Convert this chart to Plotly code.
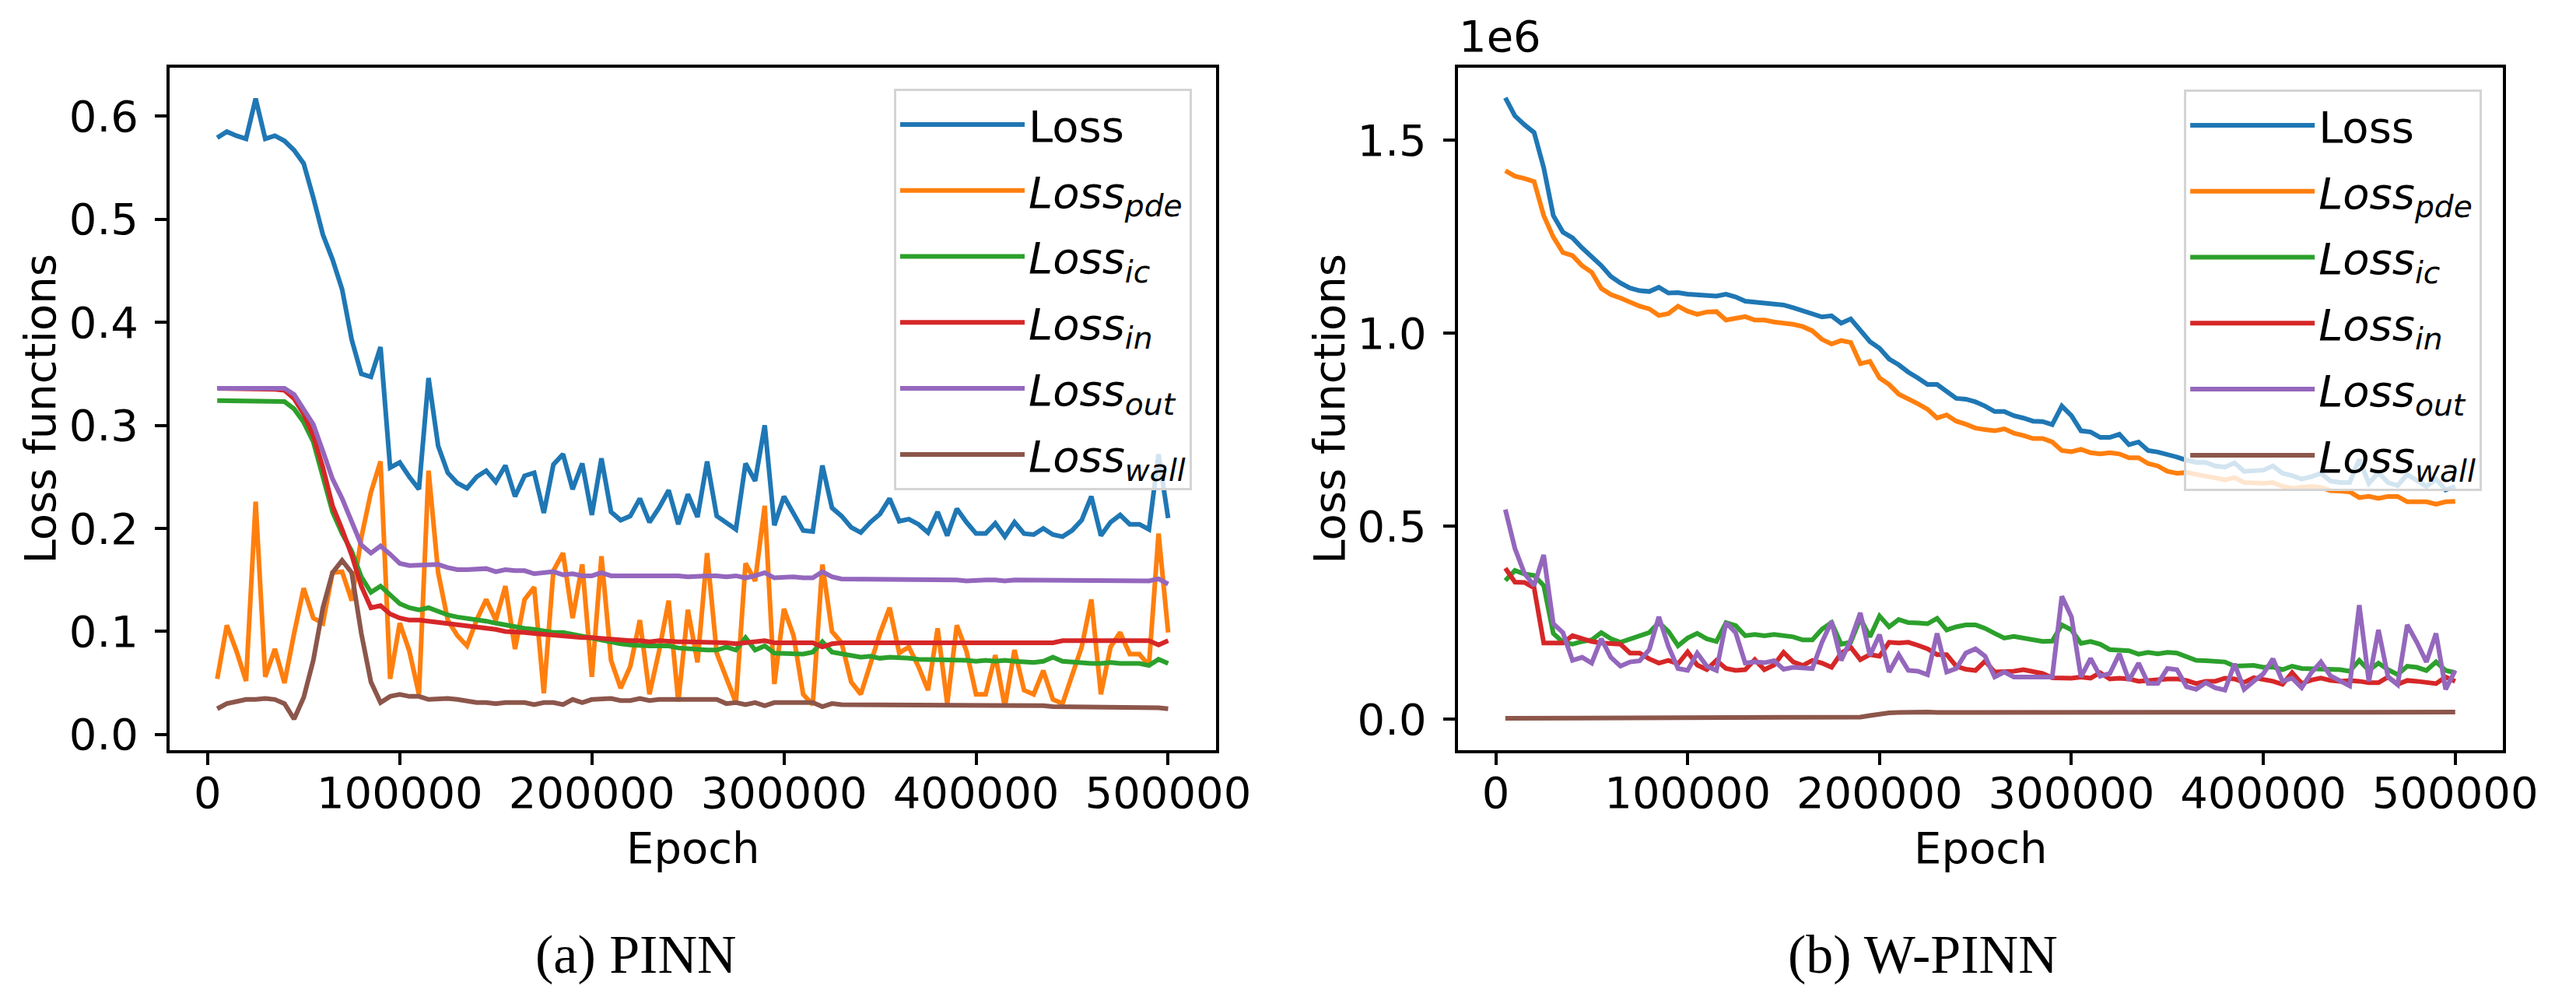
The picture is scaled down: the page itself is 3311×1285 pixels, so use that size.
import plotly.graph_objects as go

# ---------------- data ----------------
epochs = list(range(5000, 500001, 5000))

# (a) PINN
pinn_loss = [0.579,0.585,0.581,0.578,0.617,0.578,0.581,0.576,0.567,0.554,
             0.521,0.485,0.461,0.432,0.383,0.350,0.347,0.376,0.259,0.264,
             0.250,0.238,0.346,0.280,0.254,0.244,0.239,0.250,0.256,0.245,
             0.261,0.231,0.251,0.254,0.215,0.262,0.272,0.238,0.263,0.213,
             0.268,0.216,0.208,0.212,0.229,0.206,0.220,0.237,0.204,0.233,
             0.211,0.265,0.212,0.206,0.199,0.263,0.246,0.300,0.203,0.231,
             0.214,0.198,0.197,0.261,0.220,0.212,0.201,0.196,0.206,0.214,
             0.229,0.207,0.209,0.204,0.196,0.216,0.193,0.219,0.206,0.195,
             0.195,0.205,0.192,0.206,0.195,0.194,0.200,0.194,0.192,0.198,
             0.208,0.231,0.193,0.206,0.213,0.204,0.204,0.199,0.272,0.210]
pinn_pde = [0.054,0.106,0.081,0.052,0.226,0.056,0.083,0.050,0.098,0.142,
            0.113,0.108,0.157,0.158,0.130,0.191,0.235,0.265,0.054,0.108,
            0.081,0.039,0.256,0.157,0.111,0.096,0.086,0.111,0.131,0.111,
            0.144,0.083,0.131,0.143,0.040,0.159,0.176,0.113,0.165,0.056,
            0.173,0.072,0.045,0.066,0.111,0.039,0.081,0.130,0.032,0.121,
            0.070,0.176,0.079,0.056,0.031,0.166,0.149,0.222,0.049,0.122,
            0.096,0.039,0.029,0.165,0.100,0.089,0.051,0.039,0.070,0.098,
            0.123,0.079,0.085,0.066,0.043,0.103,0.030,0.106,0.081,0.039,
            0.039,0.077,0.027,0.082,0.043,0.039,0.062,0.034,0.030,0.058,
            0.085,0.131,0.039,0.085,0.099,0.078,0.078,0.067,0.195,0.099]
pinn_ic = [0.324,0.324,0.323,0.323,0.324,0.323,0.323,0.323,0.316,0.303,
           0.284,0.250,0.216,0.195,0.178,0.153,0.138,0.144,0.136,0.127,
           0.123,0.121,0.123,0.119,0.116,0.114,0.113,0.112,0.110,0.108,
           0.106,0.105,0.103,0.102,0.100,0.099,0.099,0.097,0.096,0.094,
           0.091,0.089,0.088,0.087,0.086,0.086,0.086,0.086,0.084,0.083,
           0.082,0.082,0.082,0.085,0.082,0.094,0.082,0.086,0.079,0.079,
           0.079,0.078,0.080,0.090,0.080,0.078,0.076,0.075,0.076,0.074,
           0.075,0.075,0.074,0.073,0.073,0.073,0.072,0.072,0.072,0.071,
           0.072,0.071,0.072,0.071,0.070,0.070,0.071,0.075,0.071,0.070,
           0.070,0.069,0.069,0.070,0.069,0.069,0.069,0.067,0.073,0.069]
pinn_in = [0.336,0.336,0.335,0.335,0.335,0.335,0.335,0.334,0.326,0.311,
           0.290,0.259,0.222,0.199,0.174,0.144,0.123,0.125,0.117,0.113,
           0.111,0.111,0.110,0.108,0.107,0.107,0.105,0.104,0.103,0.102,
           0.100,0.100,0.099,0.098,0.097,0.096,0.095,0.095,0.094,0.094,
           0.093,0.092,0.091,0.091,0.091,0.090,0.091,0.090,0.090,0.090,
           0.090,0.090,0.089,0.089,0.088,0.089,0.089,0.091,0.089,0.089,
           0.089,0.089,0.089,0.085,0.088,0.089,0.089,0.090,0.090,0.090,
           0.089,0.089,0.089,0.089,0.090,0.089,0.089,0.090,0.090,0.090,
           0.090,0.090,0.090,0.089,0.090,0.090,0.090,0.089,0.091,0.091,
           0.091,0.091,0.091,0.090,0.091,0.091,0.091,0.091,0.087,0.091]
pinn_out = [0.336,0.336,0.336,0.336,0.335,0.335,0.335,0.336,0.330,0.316,
            0.301,0.275,0.248,0.229,0.206,0.184,0.176,0.183,0.175,0.166,
            0.164,0.164,0.164,0.165,0.162,0.160,0.160,0.160,0.161,0.158,
            0.160,0.159,0.159,0.156,0.157,0.158,0.155,0.156,0.154,0.154,
            0.157,0.154,0.154,0.154,0.154,0.154,0.155,0.154,0.154,0.153,
            0.154,0.154,0.154,0.153,0.154,0.152,0.154,0.157,0.152,0.153,
            0.153,0.152,0.152,0.158,0.153,0.151,0.151,0.151,0.151,0.151,
            0.151,0.150,0.150,0.150,0.150,0.150,0.150,0.150,0.149,0.150,
            0.150,0.150,0.149,0.150,0.150,0.150,0.150,0.150,0.150,0.149,
            0.149,0.149,0.149,0.149,0.149,0.149,0.149,0.149,0.151,0.146]
pinn_wall = [0.025,0.030,0.032,0.034,0.034,0.035,0.034,0.030,0.015,0.036,
             0.072,0.123,0.157,0.169,0.157,0.098,0.051,0.031,0.037,0.039,
             0.037,0.037,0.034,0.035,0.035,0.034,0.032,0.031,0.031,0.030,
             0.031,0.031,0.031,0.029,0.031,0.031,0.029,0.034,0.031,0.034,
             0.034,0.035,0.033,0.033,0.035,0.033,0.034,0.034,0.034,0.034,
             0.034,0.034,0.034,0.030,0.031,0.029,0.031,0.028,0.031,0.031,
             0.031,0.031,0.031,0.027,0.030,0.029,0.029,0.029,0.029,0.029,
             0.029,0.029,0.029,0.029,0.029,0.028,0.028,0.028,0.028,0.028,
             0.028,0.028,0.028,0.028,0.028,0.028,0.028,0.027,0.027,0.027,
             0.027,0.027,0.027,0.027,0.027,0.027,0.027,0.026,0.026,0.025]

# (b) W-PINN  (values in units of 1e6)
w_loss = [1.610,1.563,1.540,1.520,1.429,1.305,1.262,1.247,1.221,1.198,
          1.175,1.147,1.130,1.117,1.110,1.108,1.119,1.104,1.105,1.101,
          1.099,1.095,1.096,1.101,1.094,1.083,1.081,1.077,1.074,1.073,
          1.066,1.059,1.049,1.042,1.045,1.026,1.037,1.006,0.978,0.961,
          0.933,0.918,0.899,0.884,0.867,0.867,0.848,0.831,0.829,0.822,
          0.811,0.797,0.797,0.786,0.780,0.772,0.771,0.763,0.811,0.786,
          0.747,0.744,0.730,0.730,0.738,0.711,0.718,0.696,0.692,0.687,
          0.679,0.671,0.665,0.665,0.656,0.653,0.664,0.642,0.645,0.645,
          0.656,0.637,0.631,0.622,0.628,0.637,0.617,0.613,0.613,0.673,
          0.611,0.639,0.613,0.605,0.634,0.617,0.603,0.622,0.594,0.603]
w_pde = [1.421,1.407,1.401,1.393,1.305,1.249,1.209,1.201,1.175,1.158,
         1.116,1.100,1.091,1.079,1.070,1.063,1.046,1.051,1.070,1.057,
         1.049,1.055,1.056,1.034,1.037,1.043,1.034,1.034,1.029,1.027,
         1.023,1.017,1.006,0.984,0.972,0.981,0.976,0.921,0.927,0.884,
         0.867,0.842,0.831,0.817,0.803,0.780,0.788,0.772,0.764,0.754,
         0.750,0.747,0.752,0.741,0.735,0.727,0.727,0.718,0.696,0.693,
         0.699,0.690,0.687,0.690,0.687,0.677,0.677,0.662,0.656,0.642,
         0.637,0.639,0.634,0.631,0.625,0.620,0.626,0.613,0.611,0.611,
         0.613,0.603,0.598,0.600,0.603,0.600,0.592,0.591,0.589,0.574,
         0.577,0.572,0.577,0.577,0.563,0.563,0.563,0.557,0.563,0.564]
w_ic = [0.359,0.385,0.376,0.372,0.346,0.222,0.199,0.194,0.201,0.205,
        0.224,0.208,0.199,0.207,0.213,0.224,0.250,0.227,0.190,0.210,
        0.222,0.208,0.201,0.250,0.242,0.216,0.219,0.216,0.219,0.216,
        0.213,0.205,0.205,0.233,0.250,0.194,0.199,0.261,0.213,0.267,
        0.239,0.258,0.250,0.249,0.247,0.261,0.231,0.239,0.244,0.244,
        0.235,0.222,0.210,0.214,0.210,0.208,0.201,0.202,0.244,0.231,
        0.196,0.201,0.194,0.180,0.179,0.177,0.168,0.173,0.169,0.173,
        0.171,0.160,0.152,0.151,0.151,0.148,0.137,0.137,0.139,0.134,
        0.135,0.128,0.137,0.131,0.131,0.131,0.131,0.128,0.124,0.152,
        0.126,0.145,0.128,0.115,0.137,0.134,0.126,0.148,0.126,0.120]
w_in = [0.391,0.355,0.354,0.340,0.197,0.197,0.197,0.216,0.208,0.201,
        0.197,0.196,0.194,0.171,0.171,0.156,0.145,0.152,0.143,0.174,
        0.140,0.128,0.152,0.131,0.126,0.128,0.154,0.128,0.140,0.173,
        0.148,0.139,0.152,0.145,0.134,0.171,0.186,0.154,0.167,0.163,
        0.199,0.197,0.199,0.191,0.182,0.167,0.167,0.137,0.129,0.126,
        0.150,0.122,0.122,0.124,0.128,0.124,0.118,0.107,0.106,0.106,
        0.109,0.106,0.120,0.104,0.106,0.104,0.098,0.101,0.101,0.104,
        0.104,0.100,0.092,0.098,0.098,0.106,0.104,0.095,0.107,0.104,
        0.098,0.090,0.120,0.092,0.101,0.106,0.100,0.098,0.100,0.098,
        0.094,0.094,0.109,0.090,0.100,0.098,0.094,0.092,0.109,0.098]
w_out = [0.543,0.442,0.377,0.346,0.425,0.247,0.224,0.152,0.160,0.145,
         0.208,0.160,0.137,0.148,0.151,0.180,0.265,0.188,0.131,0.126,
         0.171,0.137,0.126,0.250,0.224,0.145,0.148,0.146,0.151,0.129,
         0.134,0.131,0.131,0.199,0.253,0.152,0.205,0.275,0.165,0.219,
         0.122,0.167,0.126,0.124,0.115,0.222,0.122,0.131,0.171,0.182,
         0.163,0.109,0.122,0.109,0.109,0.109,0.109,0.109,0.318,0.265,
         0.109,0.157,0.111,0.118,0.169,0.100,0.145,0.092,0.092,0.131,
         0.128,0.084,0.077,0.094,0.081,0.075,0.143,0.077,0.098,0.117,
         0.156,0.098,0.106,0.081,0.120,0.148,0.112,0.098,0.086,0.295,
         0.098,0.231,0.109,0.089,0.244,0.199,0.148,0.222,0.077,0.126]
w_wall = [0.002,0.002,0.002,0.002,0.002,0.002,0.002,0.002,0.002,0.002,
          0.002,0.002,0.002,0.002,0.002,0.002,0.002,0.002,0.002,0.002,
          0.002,0.002,0.002,0.002,0.002,0.002,0.002,0.002,0.002,0.002,
          0.002,0.002,0.002,0.002,0.002,0.002,0.003,0.005,0.009,0.013,
          0.016,0.017,0.018,0.018,0.018,0.017,0.017,0.017,0.017,0.017,
          0.017,0.017,0.017,0.016,0.016,0.016,0.016,0.016,0.016,0.016,
          0.016,0.016,0.016,0.016,0.016,0.016,0.016,0.016,0.016,0.017,
          0.017,0.017,0.017,0.017,0.017,0.017,0.017,0.017,0.017,0.017,
          0.017,0.017,0.017,0.017,0.017,0.017,0.017,0.018,0.018,0.018,
          0.018,0.018,0.018,0.018,0.018,0.018,0.018,0.018,0.018,0.018]

series_names = ["Loss",
                "<i>Loss</i><sub><i>pde</i></sub>",
                "<i>Loss</i><sub><i>ic</i></sub>",
                "<i>Loss</i><sub><i>in</i></sub>",
                "<i>Loss</i><sub><i>out</i></sub>",
                "<i>Loss</i><sub><i>wall</i></sub>"]
colors = ["#1f77b4", "#ff7f0e", "#2ca02c", "#d62728", "#9467bd", "#8c564b"]
pinn_series = [pinn_loss, pinn_pde, pinn_ic, pinn_in, pinn_out, pinn_wall]
wpinn_series = [w_loss, w_pde, w_ic, w_in, w_out, w_wall]
x_ticks = [0, 100000, 200000, 300000, 400000, 500000]
x_ticktext = ["0", "100000", "200000", "300000", "400000", "500000"]
pinn_yticks = [0.0, 0.1, 0.2, 0.3, 0.4, 0.5, 0.6]
wpinn_yticks = [0.0, 0.5, 1.0, 1.5]
captions = ["(a) PINN", "(b) W-PINN"]

# ---------------- figure ----------------
W, H = 3311, 1285
FONT = "DejaVu Sans"
FS = 56
LW = 6

fig = go.Figure()
for i, (name, col, ys) in enumerate(zip(series_names, colors, pinn_series)):
    fig.add_trace(go.Scatter(x=epochs, y=ys, mode="lines", name=name,
                             line=dict(color=col, width=LW), legendgroup=f"a{i}",
                             xaxis="x", yaxis="y", legend="legend"))
for i, (name, col, ys) in enumerate(zip(series_names, colors, wpinn_series)):
    fig.add_trace(go.Scatter(x=epochs, y=ys, mode="lines", name=name,
                             line=dict(color=col, width=LW), legendgroup=f"b{i}",
                             xaxis="x2", yaxis="y2", legend="legend2"))

def px(x):
    return x / W

def py(y):
    return 1 - y / H

ax_common = dict(showline=True, linewidth=4, linecolor="black", mirror=True,
                 ticks="outside", ticklen=15, tickwidth=4, tickcolor="black",
                 showgrid=False, zeroline=False,
                 tickfont=dict(family=FONT, size=FS, color="black"))

y_dom = [py(965), py(79.5)]
fig.update_layout(
    xaxis=dict(domain=[px(213), px(1576)], range=[-19750, 524750],
               tickvals=x_ticks, ticktext=x_ticktext, anchor="y",
               ticklabelstandoff=-12, **ax_common),
    yaxis=dict(domain=y_dom, range=[-0.0152, 0.6472], anchor="x",
               tickvals=pinn_yticks, tickformat=".1f",
               ticklabelstandoff=10, **ax_common),
    xaxis2=dict(domain=[px(1891.5), px(3253)], range=[-19750, 524750],
                tickvals=x_ticks, ticktext=x_ticktext, anchor="y2",
                ticklabelstandoff=-12, **ax_common),
    yaxis2=dict(domain=y_dom, range=[-0.0807, 1.6885], anchor="x2",
                tickvals=wpinn_yticks, tickformat=".1f",
                ticklabelstandoff=10, **ax_common),
)

leg_common = dict(bgcolor="rgba(255,255,255,0.8)", bordercolor="#d4d4d4",
                  borderwidth=3, font=dict(family=FONT, size=FS, color="black"),
                  xanchor="right", yanchor="top", itemwidth=160,
                  traceorder="grouped", tracegroupgap=9)
fig.update_layout(
    legend=dict(x=px(1545), y=py(107), **leg_common),
    legend2=dict(x=px(3226), y=py(108), **leg_common),
)

annotations = [
    dict(text="Loss functions", x=px(44), y=py(522), textangle=-90),
    dict(text="Loss functions", x=px(1724), y=py(522), textangle=-90),
    dict(text="Epoch", x=px(894.5), y=py(1092)),
    dict(text="Epoch", x=px(2572), y=py(1092)),
    dict(text="1e6", x=px(1891), y=py(74), xanchor="left", yanchor="bottom"),
]
for a in annotations:
    a.update(xref="paper", yref="paper", showarrow=False,
             font=dict(family=FONT, size=FS, color="black"))
    a.setdefault("xanchor", "center")
    a.setdefault("yanchor", "middle")
for cap, cx in zip(captions, [821, 2497]):
    annotations.append(dict(text=cap, x=px(cx), y=py(1230), xref="paper", yref="paper",
                            showarrow=False, xanchor="center", yanchor="middle",
                            font=dict(family="Liberation Serif", size=70, color="black")))

fig.update_layout(
    width=W, height=H, margin=dict(l=0, r=0, t=0, b=0),
    paper_bgcolor="white", plot_bgcolor="white",
    font=dict(family=FONT, size=FS, color="black"),
    annotations=annotations, showlegend=True,
)

fig.write_html("out.html", include_plotlyjs=True, config={"displayModeBar": False})
